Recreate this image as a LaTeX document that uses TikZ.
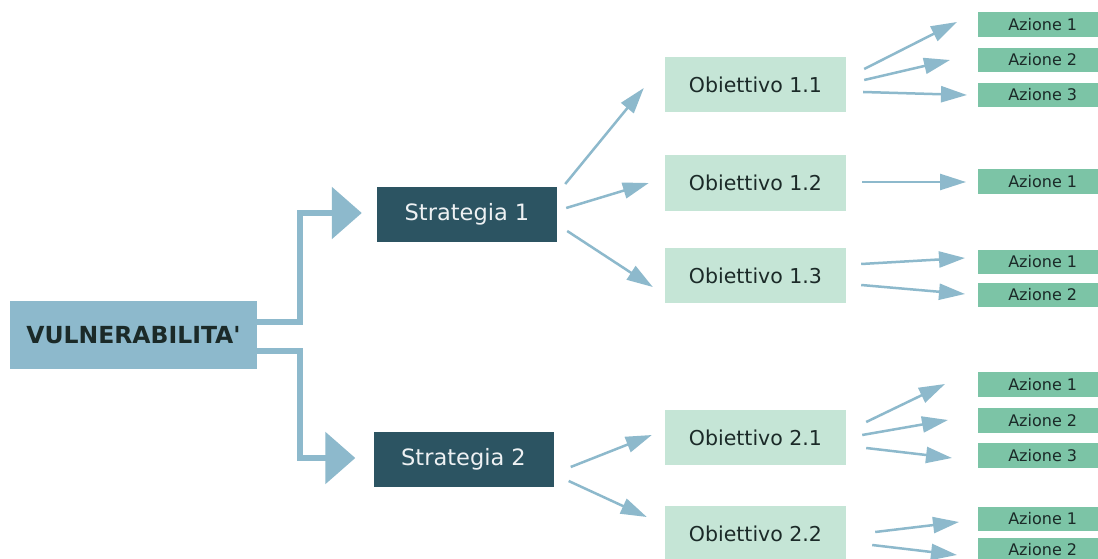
\documentclass[tikz,border=0pt]{standalone}
\usepackage{fontspec}
\setmainfont{DejaVu Sans}
\usetikzlibrary{arrows.meta,calc}
\definecolor{vblue}{HTML}{8DB9CC}
\definecolor{sdark}{HTML}{2C5462}
\definecolor{olight}{HTML}{C5E5D6}
\definecolor{agreen}{HTML}{7CC4A6}
\definecolor{tdark}{HTML}{1B2A28}
\begin{document}
\begin{tikzpicture}[x=1pt,y=-1pt,
  vbox/.style={fill=vblue,minimum width=247pt,minimum height=68pt,inner sep=0pt,font=\fontsize{23.5}{26}\selectfont\bfseries,text=tdark},
  sbox/.style={fill=sdark,minimum width=180pt,minimum height=55pt,inner sep=0pt,font=\fontsize{22.5}{26}\selectfont,text=white!92!sdark},
  obox/.style={fill=olight,minimum width=181pt,minimum height=55pt,inner sep=0pt,font=\fontsize{20.5}{24}\selectfont,text=tdark},
  abox/.style={fill=agreen,anchor=west,minimum width=129pt,minimum height=24.5pt,inner sep=0pt,font=\fontsize{16}{18}\selectfont,text=tdark},
  elbow/.style={draw=vblue,line width=6pt,-{Triangle[length=30pt,width=51pt]}},
  arr/.style={draw=vblue,line width=2.5pt,-{Triangle[length=26pt,width=16pt]}}]
\useasboundingbox[fill=white] (0,0) rectangle (1098,559);
% main nodes
\node[vbox] (v) at (133.5,335) {VULNERABILITA\textquotesingle};
\node[sbox] (s1) at (467,214.5) {Strategia 1};
\node[sbox] (s2) at (463.5,459.5) {Strategia 2};
\node[obox] (o11) at (755.5,84.5) {Obiettivo 1.1};
\node[obox] (o12) at (755.5,183) {Obiettivo 1.2};
\node[obox] (o13) at (755.5,275.5) {Obiettivo 1.3};
\node[obox] (o21) at (755.5,437.5) {Obiettivo 2.1};
\node[obox] (o22) at (755.5,533.5) {Obiettivo 2.2};
% actions
\node[abox] (a111) at (978,24.5) {Azione 1};
\node[abox] (a112) at (978,60) {Azione 2};
\node[abox] (a113) at (978,95) {Azione 3};
\node[abox] (a121) at (978,181.5) {Azione 1};
\node[abox] (a131) at (978,262) {Azione 1};
\node[abox] (a132) at (978,295) {Azione 2};
\node[abox] (a211) at (978,384.5) {Azione 1};
\node[abox] (a212) at (978,420.5) {Azione 2};
\node[abox] (a213) at (978,455.5) {Azione 3};
\node[abox] (a221) at (978,519) {Azione 1};
\node[abox] (a222) at (978,550) {Azione 2};
% elbow connectors
\draw[elbow] ($(v.east)+(0,-13)$) -- ++(43,0) |- ($(s1.west)+(-15,-1.5)$);
\draw[elbow] ($(v.east)+(0,16)$) -- ++(43,0) |- ($(s2.west)+(-18,-1.5)$);
% strategy -> objective
\draw[arr] ($(s1.east)+(8,-30.5)$) -- ($(o11.west)+(-21,3.5)$);
\draw[arr] ($(s1.east)+(9,-6.5)$) -- ($(o12.west)+(-16,0)$);
\draw[arr] ($(s1.east)+(10,16.5)$) -- ($(o13.west)+(-12,11.5)$);
\draw[arr] ($(s2.east)+(17,7.5)$) -- ($(o21.west)+(-13,-2.5)$);
\draw[arr] ($(s2.east)+(15,21.5)$) -- ($(o22.west)+(-18,-16.5)$);
% objective -> action
\draw[arr] ($(o11.east)+(18,-15.5)$) -- ($(a111.west)+(-21,-2.5)$);
\draw[arr] ($(o11.east)+(18,-4.5)$) -- ($(a112.west)+(-28,0)$);
\draw[arr] ($(o11.east)+(17,7.5)$) -- ($(a113.west)+(-11,0)$);
\draw[arr] ($(o12.east)+(16,-1)$) -- ($(a121.west)+(-12,0.5)$);
\draw[arr] ($(o13.east)+(15,-11.5)$) -- ($(a131.west)+(-13,-4)$);
\draw[arr] ($(o13.east)+(15,9.5)$) -- ($(a132.west)+(-13,-1)$);
\draw[arr] ($(o21.east)+(20,-15.5)$) -- ($(a211.west)+(-33,-0.5)$);
\draw[arr] ($(o21.east)+(16,-2.5)$) -- ($(a212.west)+(-30,-0.5)$);
\draw[arr] ($(o21.east)+(20,10.5)$) -- ($(a213.west)+(-26,2.5)$);
\draw[arr] ($(o22.east)+(29,-1.5)$) -- ($(a221.west)+(-19,3)$);
\draw[arr] ($(o22.east)+(26,11.5)$) -- ($(a222.west)+(-21,5)$);
\end{tikzpicture}
\end{document}
